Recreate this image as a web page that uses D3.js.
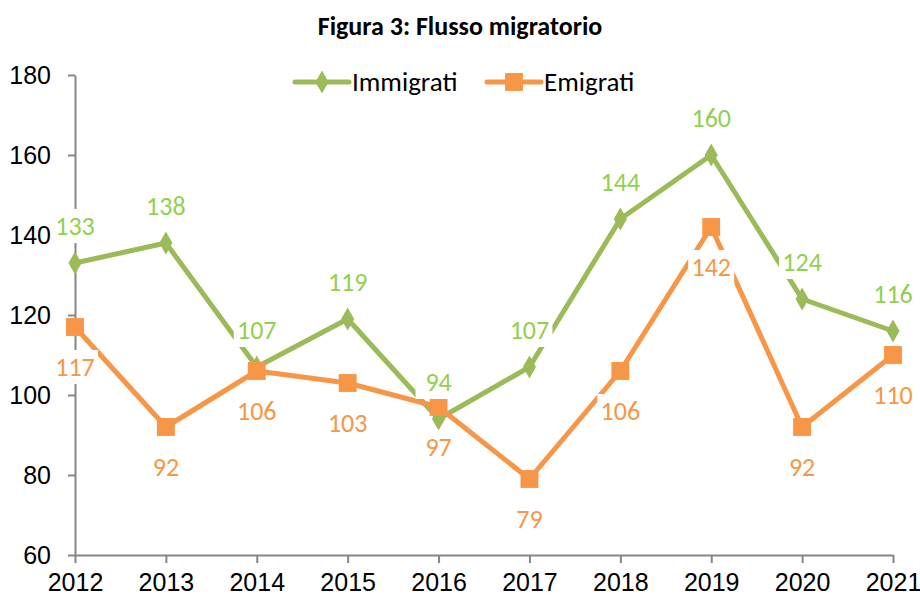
<!DOCTYPE html>
<html>
<head>
<meta charset="utf-8">
<title>Flusso migratorio</title>
<script src="https://cdn.jsdelivr.net/npm/d3@7"></script>
<style>
  body { margin: 0; background: #fff; }
  svg { font-family: Carlito, "Liberation Sans Narrow", "DejaVu Sans Condensed", sans-serif; }
  .axis path, .axis line { stroke: #868686; stroke-width: 2; fill: none; }
  .axis text { font-size: 25px; fill: #000; }
</style>
</head>
<body>
<script>
// dati
var anni = [2012, 2013, 2014, 2015, 2016, 2017, 2018, 2019, 2020, 2021];
var immigrati = [133, 138, 107, 119, 94, 107, 144, 160, 124, 116];
var emigrati = [117, 92, 106, 103, 97, 79, 106, 142, 92, 110];
var yTicks = [60, 80, 100, 120, 140, 160, 180];

var w = 920, h = 598;
var verde = "#9BBB59", verdeTesto = "#92D050";
var arancio = "#F79646", arancioTesto = "#F79646";

var svg = d3.select("body").append("svg")
    .attr("width", w)
    .attr("height", h);

var x = d3.scalePoint().domain(anni).range([75, 893]);
var y = d3.scaleLinear().domain([60, 180]).range([555, 75]);

// titolo
svg.append("text")
    .attr("x", 460).attr("y", 35)
    .attr("text-anchor", "middle")
    .attr("font-size", "26px")
    .attr("font-weight", "bold")
    .text("Figura 3: Flusso migratorio");

// assi
svg.append("g")
    .attr("class", "axis")
    .attr("transform", "translate(75,0)")
    .call(d3.axisLeft(y).tickValues(yTicks).tickSize(7).tickPadding(17).tickSizeOuter(0));

svg.append("g")
    .attr("class", "axis")
    .attr("transform", "translate(0,555)")
    .call(d3.axisBottom(x).tickSize(8).tickPadding(10).tickSizeOuter(0));

var serie = [
  { nome: "Immigrati", valori: immigrati, colore: verde, testo: verdeTesto, forma: d3.symbolDiamond, dimensione: 150, dy: -37 },
  { nome: "Emigrati", valori: emigrati, colore: arancio, testo: arancioTesto, forma: d3.symbolSquare, dimensione: 320, dy: 40 }
];

var linea = d3.line()
    .x(function(d, i) { return x(anni[i]); })
    .y(function(d) { return y(d); });

serie.forEach(function(s) {
  svg.append("path")
      .datum(s.valori)
      .attr("d", linea)
      .attr("fill", "none")
      .attr("stroke", s.colore)
      .attr("stroke-width", 5)
      .attr("stroke-linejoin", "round");

  svg.selectAll(null)
      .data(s.valori)
      .enter()
      .append("path")
      .attr("d", d3.symbol().type(s.forma).size(s.dimensione))
      .attr("fill", s.colore)
      .attr("transform", function(d, i) {
        return "translate(" + x(anni[i]) + "," + y(d) + ")";
      });
});

// etichette con sfondo bianco
serie.forEach(function(s) {
  var g = svg.selectAll(null)
      .data(s.valori)
      .enter()
      .append("g")
      .attr("transform", function(d, i) {
        return "translate(" + x(anni[i]) + "," + (y(d) + s.dy) + ")";
      });
  g.append("rect")
      .attr("x", -23).attr("y", -17)
      .attr("width", 46).attr("height", 34)
      .attr("fill", "#fff");
  g.append("text")
      .attr("text-anchor", "middle")
      .attr("dy", "0.35em")
      .attr("font-size", "26px")
      .attr("fill", s.testo)
      .text(function(d) { return d; });
});

// legenda
var legenda = [
  { nome: "Immigrati", x0: 293, colore: verde, forma: d3.symbolDiamond, dimensione: 150 },
  { nome: "Emigrati", x0: 485, colore: arancio, forma: d3.symbolSquare, dimensione: 320 }
];
legenda.forEach(function(l) {
  var g = svg.append("g").attr("transform", "translate(" + l.x0 + ",82)");
  g.append("line")
      .attr("x1", 2).attr("x2", 56)
      .attr("stroke", l.colore).attr("stroke-width", 5)
      .attr("stroke-linecap", "round");
  g.append("path")
      .attr("d", d3.symbol().type(l.forma).size(l.dimensione))
      .attr("transform", "translate(29,0)")
      .attr("fill", l.colore);
  g.append("text")
      .attr("x", 59).attr("dy", "0.35em")
      .attr("font-size", "27px")
      .text(l.nome);
});
</script>
</body>
</html>
